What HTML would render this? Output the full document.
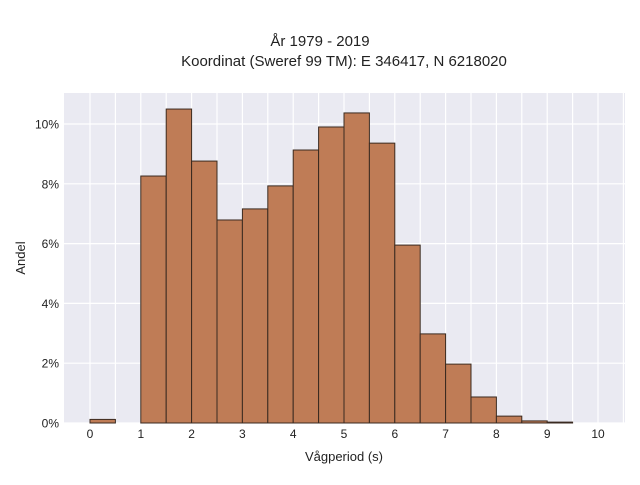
<!DOCTYPE html>
<html><head><meta charset="utf-8"><style>body{margin:0;background:#fff}svg{font-family:"Liberation Sans",sans-serif}</style></head>
<body>
<svg id="c" width="640" height="480">
<rect x="64" y="93" width="561" height="330" fill="#eaeaf2"/>
<g id="grid"></g><g id="bars"></g><g id="ticks"></g>
<text x="320" y="46" text-anchor="middle" font-size="15" fill="#222">År 1979 - 2019</text>
<text x="344" y="66" text-anchor="middle" font-size="15" fill="#222">Koordinat (Sweref 99 TM): E 346417, N 6218020</text>
<text x="344" y="461" text-anchor="middle" font-size="13" fill="#222">Vågperiod (s)</text>
<text transform="translate(25,258) rotate(-90)" text-anchor="middle" font-size="13" fill="#222">Andel</text>
</svg>
<script>
const binStarts=[0,0.5,1,1.5,2,2.5,3,3.5,4,4.5,5,5.5,6,6.5,7,7.5,8,8.5,9];
const shares=[0.12,0,8.26,10.5,8.76,6.79,7.16,7.93,9.13,9.9,10.37,9.36,5.95,2.98,1.97,0.87,0.23,0.07,0.03];
const xTicks=[0,1,2,3,4,5,6,7,8,9,10];
const yTicks=[0,2,4,6,8,10];
const binWidth=0.5;
const X=v=>90+v*50.8, Y=v=>423-v*29.9;
const ns="http://www.w3.org/2000/svg";
function mk(t,a,p){const e=document.createElementNS(ns,t);for(const k in a)e.setAttribute(k,a[k]);p.appendChild(e);return e;}
const g=document.getElementById('grid'),b=document.getElementById('bars'),tk=document.getElementById('ticks');
for(let v=0;v<=10.5;v+=0.5){const l=mk('line',{x1:X(v),x2:X(v),y1:93,y2:423,stroke:'#fff','stroke-width':1.2},g);

}
yTicks.forEach(v=>{const l=mk('line',{x1:64,x2:625,y1:Y(v),y2:Y(v),stroke:'#fff','stroke-width':1.2},g);


const t=mk('text',{x:59,y:Y(v)+4.5,'text-anchor':'end','font-size':12,fill:'#222'},tk);t.textContent=v+'%';

});
xTicks.forEach(v=>{const t=mk('text',{x:X(v),y:438,'text-anchor':'middle','font-size':12,fill:'#222'},tk);t.textContent=v;

});
binStarts.forEach((s,i)=>{if(shares[i]<=0)return;const r=mk('rect',{x:X(s),y:Y(shares[i]),width:X(s+binWidth)-X(s),height:Y(0)-Y(shares[i]),fill:'#bf7c56',stroke:'#3a2a20','stroke-width':1},b);

});
</script>
</body></html>
